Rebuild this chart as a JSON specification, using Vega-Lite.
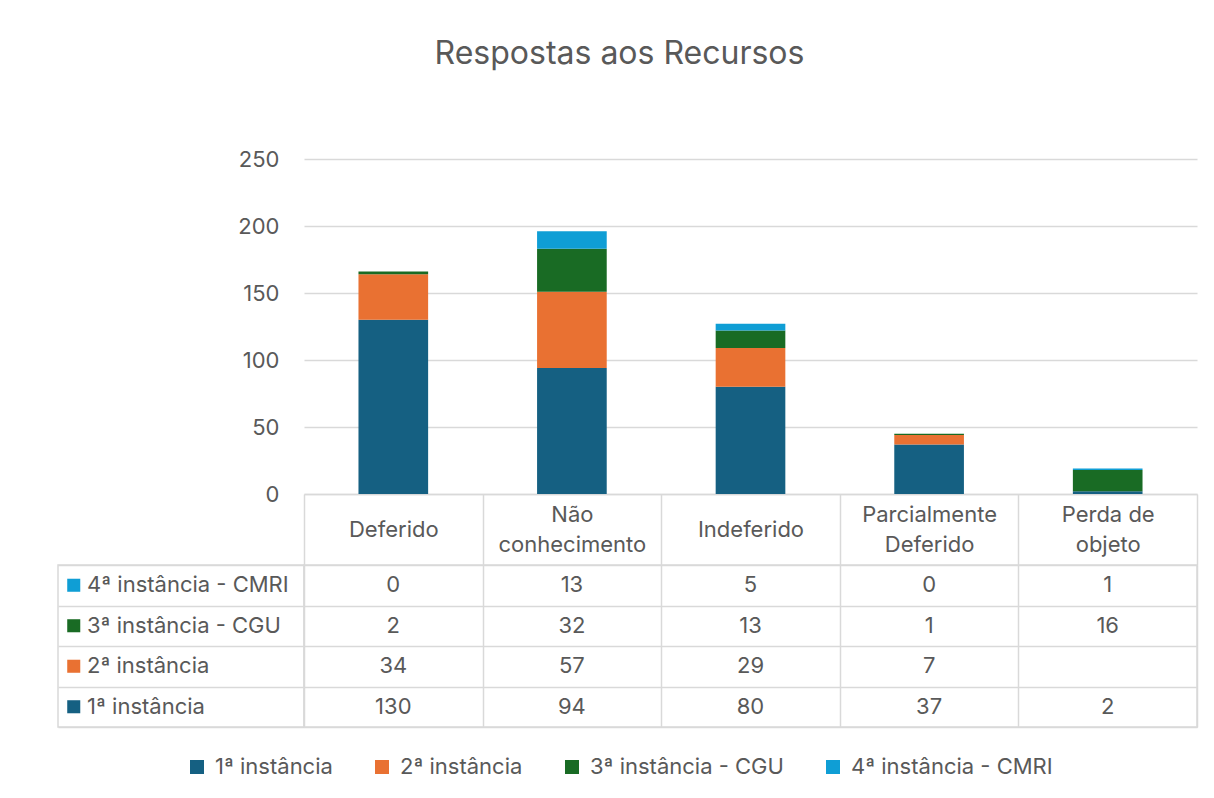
{
  "$schema": "https://vega.github.io/schema/vega-lite/v6.json",
  "padding": {"left": 57, "top": 38, "right": 18, "bottom": 10},
  "background": "white",
  "title": {"text": "Respostas aos Recursos", "fontSize": 32, "fontWeight": "normal", "color": "#595959", "font": "Inter", "anchor": "middle", "offset": 77, "dx": -8},
  "datasets": {
    "d": [
      {"cat": "Deferido", "series": "1ª instância", "v": 130},
      {"cat": "Deferido", "series": "2ª instância", "v": 34},
      {"cat": "Deferido", "series": "3ª instância - CGU", "v": 2},
      {"cat": "Deferido", "series": "4ª instância - CMRI", "v": 0},
      {"cat": "Não conhecimento", "series": "1ª instância", "v": 94},
      {"cat": "Não conhecimento", "series": "2ª instância", "v": 57},
      {"cat": "Não conhecimento", "series": "3ª instância - CGU", "v": 32},
      {"cat": "Não conhecimento", "series": "4ª instância - CMRI", "v": 13},
      {"cat": "Indeferido", "series": "1ª instância", "v": 80},
      {"cat": "Indeferido", "series": "2ª instância", "v": 29},
      {"cat": "Indeferido", "series": "3ª instância - CGU", "v": 13},
      {"cat": "Indeferido", "series": "4ª instância - CMRI", "v": 5},
      {"cat": "Parcialmente Deferido", "series": "1ª instância", "v": 37},
      {"cat": "Parcialmente Deferido", "series": "2ª instância", "v": 7},
      {"cat": "Parcialmente Deferido", "series": "3ª instância - CGU", "v": 1},
      {"cat": "Parcialmente Deferido", "series": "4ª instância - CMRI", "v": 0},
      {"cat": "Perda de objeto", "series": "1ª instância", "v": 2},
      {"cat": "Perda de objeto", "series": "3ª instância - CGU", "v": 16},
      {"cat": "Perda de objeto", "series": "4ª instância - CMRI", "v": 1}
    ],
    "s": [
      {"series": "4ª instância - CMRI"},
      {"series": "3ª instância - CGU"},
      {"series": "2ª instância"},
      {"series": "1ª instância"}
    ]
  },
  "columns": 2,
  "spacing": {"row": 71, "column": 0},
  "bounds": "flush",
  "resolve": {"scale": {"color": "shared", "x": "independent", "y": "independent"}},
  "concat": [
    {
      "width": 246, "height": 335,
      "data": {"values": [{}]},
      "mark": {"type": "text", "text": ""},
      "encoding": {}
    },
    {
      "width": 893, "height": 335,
      "data": {"name": "d"},
      "mark": {"type": "bar", "width": {"band": 0.39}},
      "encoding": {
        "x": {
          "field": "cat", "type": "nominal",
          "sort": ["Deferido", "Não conhecimento", "Indeferido", "Parcialmente Deferido", "Perda de objeto"],
          "scale": {"paddingInner": 0, "paddingOuter": 0},
          "axis": {
            "title": null, "orient": "bottom", "tickBand": "extent", "tickSize": 71,
            "tickColor": "#d9d9d9", "tickWidth": 1.5, "domainColor": "#d9d9d9", "domainWidth": 1.5,
            "labelAngle": 0,
            "labelPadding": {"condition": {"test": "datum.value == 'Deferido' || datum.value == 'Indeferido'", "value": -35.5}, "value": -50.5},
            "labelBaseline": "middle", "labelLineHeight": 30,
            "labelFontSize": 22, "labelColor": "#595959", "labelFont": "Inter",
            "labelExpr": "datum.label == 'Não conhecimento' ? ['Não', 'conhecimento'] : datum.label == 'Parcialmente Deferido' ? ['Parcialmente', 'Deferido'] : datum.label == 'Perda de objeto' ? ['Perda de', 'objeto'] : datum.label"
          }
        },
        "y": {
          "field": "v", "type": "quantitative", "stack": "zero",
          "scale": {"domain": [0, 250], "nice": false},
          "axis": {
            "title": null, "values": [0, 50, 100, 150, 200, 250], "domain": false, "ticks": false,
            "gridColor": "#d9d9d9", "gridWidth": 1.5, "labelPadding": 25,
            "labelFontSize": 22, "labelColor": "#595959", "labelFont": "Inter"
          }
        },
        "color": {
          "field": "series", "type": "nominal",
          "scale": {
            "domain": ["1ª instância", "2ª instância", "3ª instância - CGU", "4ª instância - CMRI"],
            "range": ["#156082", "#E97132", "#196B24", "#0F9ED5"]
          },
          "legend": {
            "title": null, "orient": "none", "legendX": 128, "legendY": 597, "direction": "horizontal", "symbolType": "square",
            "symbolSize": 196, "symbolStrokeWidth": 0, "labelFontSize": 22, "labelColor": "#595959",
            "labelFont": "Inter", "columnPadding": 38, "labelOffset": 7, "labelLimit": 0, "padding": 0
          }
        },
        "order": {"field": "series", "type": "nominal", "sort": "ascending"}
      }
    },
    {
      "width": 246, "height": 162,
      "data": {"name": "s"},
      "view": {"stroke": "#d9d9d9", "strokeWidth": 1.5},
      "encoding": {
        "y": {
          "field": "series", "type": "nominal",
          "sort": ["4ª instância - CMRI", "3ª instância - CGU", "2ª instância", "1ª instância"],
          "scale": {"paddingInner": 0, "paddingOuter": 0},
          "axis": {"title": null, "labels": false, "ticks": false, "domain": false, "grid": true, "tickBand": "extent", "gridColor": "#d9d9d9", "gridWidth": 1.5}
        }
      },
      "layer": [
        {
          "mark": {"type": "square", "size": 170, "opacity": 1, "filled": true},
          "encoding": {
            "x": {"datum": 0.064, "type": "quantitative", "scale": {"domain": [0, 1]}, "axis": null},
            "color": {"field": "series", "type": "nominal"}
          }
        },
        {
          "mark": {"type": "text", "align": "left", "fontSize": 22, "color": "#595959", "font": "Inter"},
          "encoding": {
            "x": {"datum": 0.118, "type": "quantitative", "scale": {"domain": [0, 1]}, "axis": null},
            "text": {"field": "series", "type": "nominal"}
          }
        }
      ]
    },
    {
      "width": 893, "height": 162,
      "data": {"name": "d"},
      "view": {"stroke": "#d9d9d9", "strokeWidth": 1.5},
      "mark": {"type": "text", "fontSize": 22, "color": "#595959", "font": "Inter"},
      "encoding": {
        "x": {
          "field": "cat", "type": "nominal",
          "sort": ["Deferido", "Não conhecimento", "Indeferido", "Parcialmente Deferido", "Perda de objeto"],
          "scale": {"paddingInner": 0, "paddingOuter": 0},
          "axis": {"title": null, "labels": false, "ticks": false, "domain": false, "grid": true, "tickBand": "extent", "gridColor": "#d9d9d9", "gridWidth": 1.5}
        },
        "y": {
          "field": "series", "type": "nominal",
          "sort": ["4ª instância - CMRI", "3ª instância - CGU", "2ª instância", "1ª instância"],
          "scale": {"paddingInner": 0, "paddingOuter": 0},
          "axis": {"title": null, "labels": false, "ticks": false, "domain": false, "grid": true, "tickBand": "extent", "gridColor": "#d9d9d9", "gridWidth": 1.5}
        },
        "text": {"field": "v", "type": "quantitative"}
      }
    }
  ],
  "config": {
    "view": {"stroke": null},
    "font": "Inter"
  }
}
